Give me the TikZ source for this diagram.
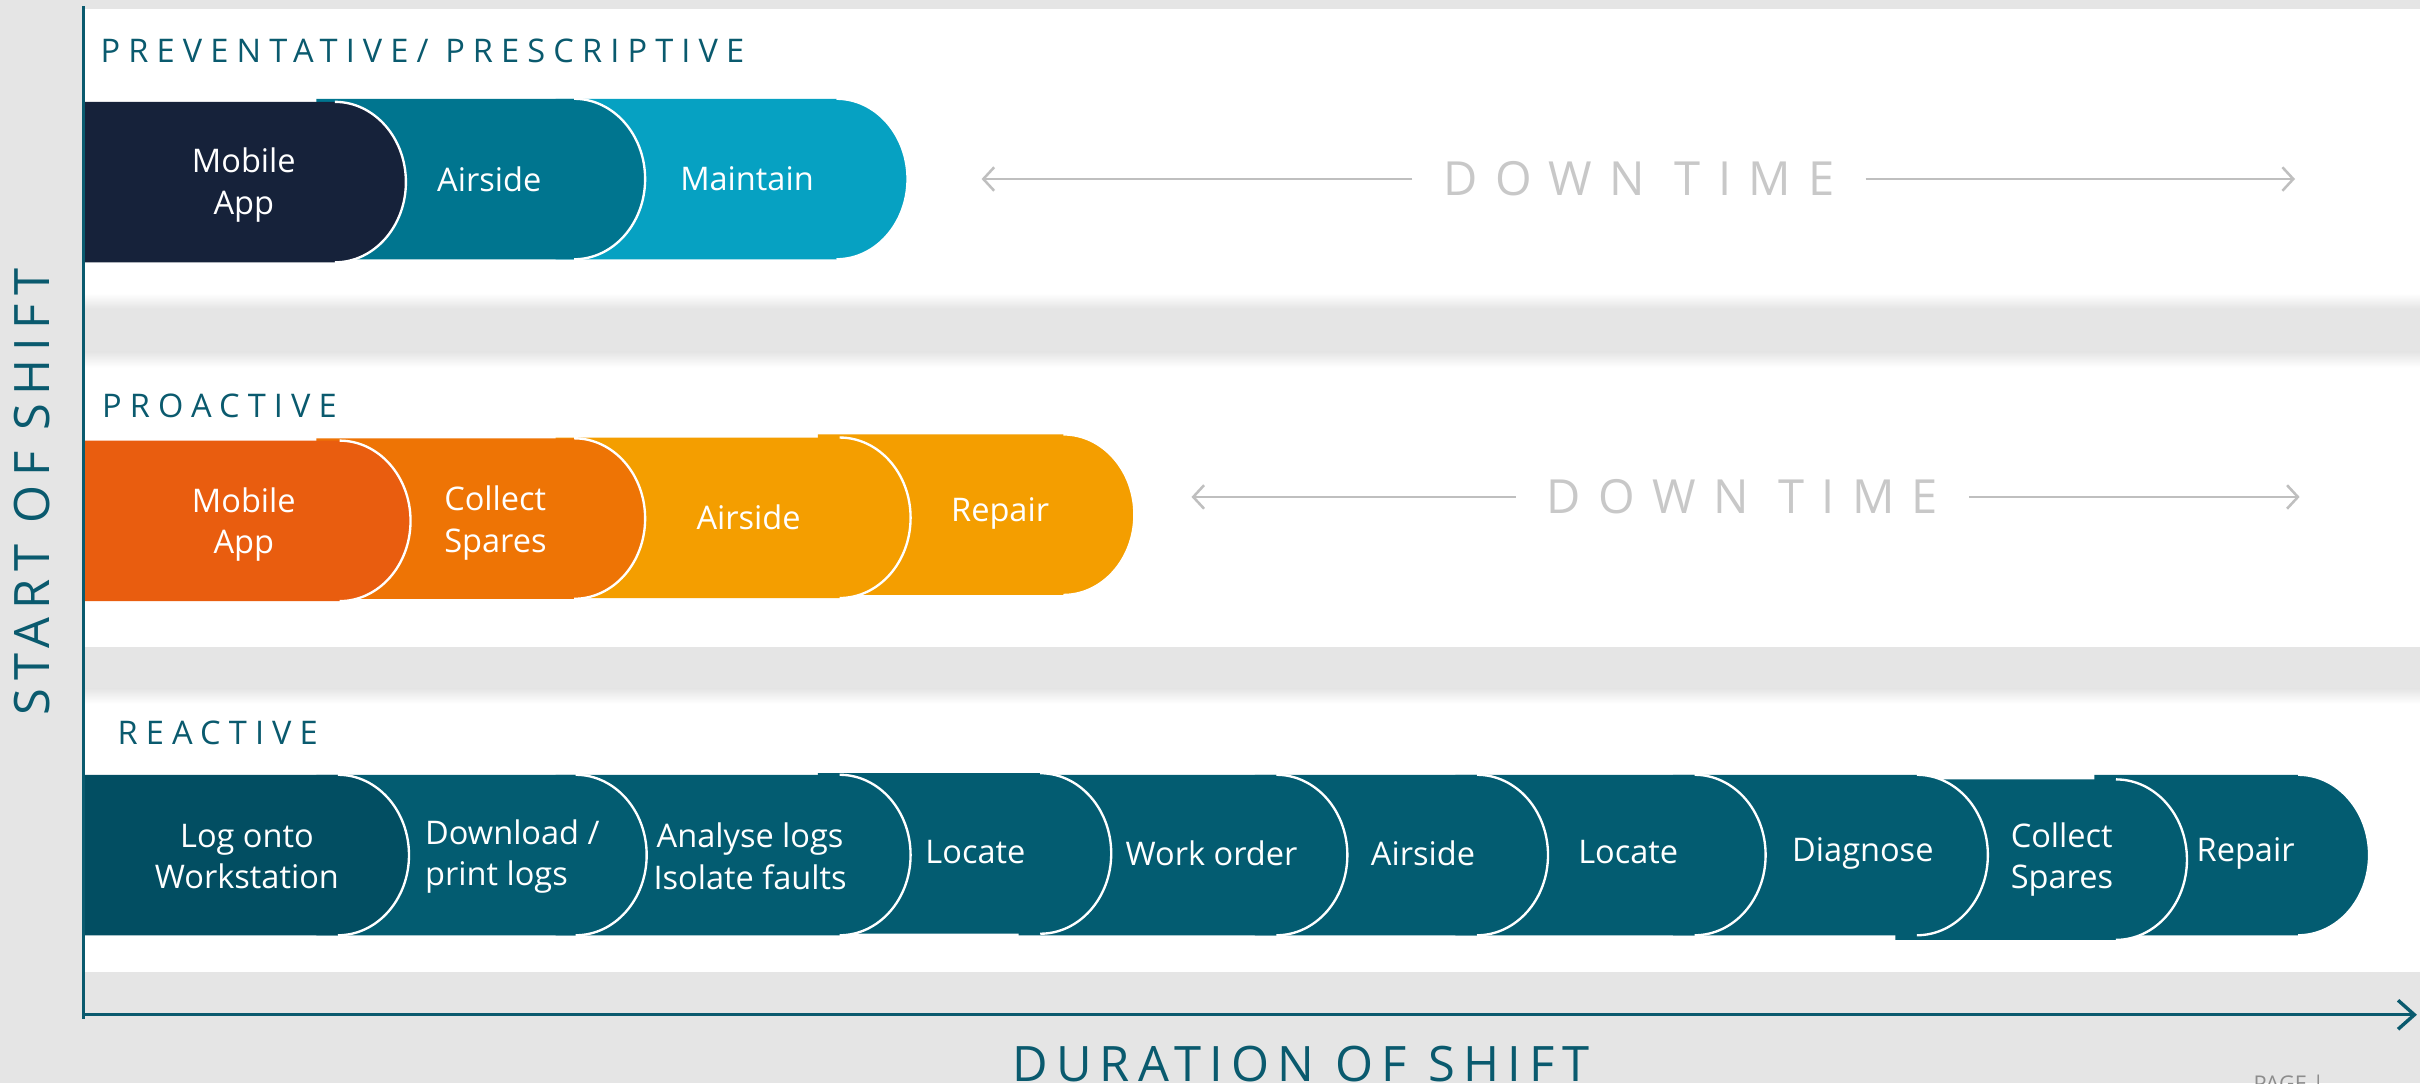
\documentclass[tikz,border=0pt]{standalone}
\usepackage{fontspec}
\setmainfont{Open Sans}
\usepackage{xcolor}
\usepackage{tikz}
\usetikzlibrary{arrows.meta}
\definecolor{bggrey}{HTML}{E5E5E5}
\definecolor{axisteal}{HTML}{0A5A6E}
\definecolor{darknavy}{HTML}{16223A}
\definecolor{midteal}{HTML}{00758F}
\definecolor{lightteal}{HTML}{06A1C2}
\definecolor{redorange}{HTML}{E95D0F}
\definecolor{orange}{HTML}{EE7405}
\definecolor{amber}{HTML}{F49E00}
\definecolor{deepteal}{HTML}{024E62}
\definecolor{petrol}{HTML}{035C71}
\definecolor{dtgrey}{HTML}{C8C8C8}
\definecolor{dtline}{HTML}{BFBFBF}
\definecolor{pagegrey}{HTML}{8C8C8C}

\tikzset{
  steplbl/.style={text=white, align=center, inner sep=0pt, font=\fontsize{18}{23}\selectfont},
  rowtitle/.style={text=axisteal, anchor=west, inner sep=0pt, font=\fontsize{18}{21}\selectfont\addfontfeature{LetterSpace=25}},
  downtime/.style={text=dtgrey, inner ysep=0pt, inner xsep=17pt, font=\fontsize{26}{30}\selectfont\addfontfeature{LetterSpace=37}},
  dtarrow/.style={draw=dtline, line width=1.4pt, -{Straight Barb[length=6pt, width=13pt]}},
  axislbl/.style={text=axisteal, inner sep=0pt, font=\fontsize{27}{31}\selectfont\addfontfeature{LetterSpace=17}},
  axisline/.style={draw=axisteal, line width=1.9pt},
}

\begin{document}
\begin{tikzpicture}[x=0.03cm, y=0.03cm]
\useasboundingbox (0,0) rectangle (1568,702);

% Background and the three white bands
\fill[bggrey] (0,0) rectangle (1568,702);
\fill[white] (54,502) rectangle (1568,696);
\fill[white] (54,283) rectangle (1568,474);
\fill[white] (54,72) rectangle (1568,256);
\shade[top color=white, bottom color=bggrey] (54,502) rectangle (1568,512);
\shade[top color=bggrey, bottom color=white] (54,464) rectangle (1568,474);
\shade[top color=bggrey, bottom color=white] (54,246) rectangle (1568,256);

% Row titles
\node[rowtitle] (t1) at (65,669) {PREVENTATIVE/ PRESCRIPTIVE};
\node[rowtitle] (t2) at (66,439) {PROACTIVE};
\node[rowtitle] (t3) at (76,227) {REACTIVE};

% Step segments (drawn right to left so each curve overlaps the next)
\foreach \xl/\xr/\yc/\col in {360/588/586/lightteal, 205/418/586/midteal, 54/263/584/darknavy,
  530/735/368.5/amber, 360/590/366.5/amber, 205/418/366/orange, 54/266/364.5/redorange,
  1357/1535/148/petrol, 1228/1417/145/petrol, 1084/1288/148/petrol, 943/1144/148/petrol,
  813/1003/148/petrol, 660/873/148/petrol, 530/720/149/petrol, 360/590/148/petrol,
  205/419/148/petrol, 54/265/148/deepteal} {
  \fill[\col] (\xl,\yc+52) -- (\xr-46,\yc+52) arc[start angle=90, end angle=-90, x radius=46, y radius=52] -- (\xl,\yc-52) -- cycle;
  \draw[white, line width=1.3pt] (\xr-46,\yc+52) arc[start angle=90, end angle=-90, x radius=46, y radius=52];
}

% Step labels
\node[steplbl] (p1) at (158,582) {Mobile\\App};
\node[steplbl] (p2) at (317,586) {Airside};
\node[steplbl] (p3) at (484,586) {Maintain};

\node[steplbl] (a1) at (158,362) {Mobile\\App};
\node[steplbl, align=left] (a2) at (321,363) {Collect\\Spares};
\node[steplbl] (a3) at (485,367) {Airside};
\node[steplbl] (a4) at (648,369) {Repair};

\node[steplbl] (r1) at (160,147) {Log onto\\Workstation};
\node[steplbl, align=left] (r2) at (332,147) {Download /\\print logs};
\node[steplbl] (r3) at (486,147) {Analyse logs\\Isolate faults};
\node[steplbl] (r4) at (632,150) {Locate};
\node[steplbl] (r5) at (785,149) {Work order};
\node[steplbl] (r6) at (922,149) {Airside};
\node[steplbl] (r7) at (1055,150) {Locate};
\node[steplbl] (r8) at (1207,149) {Diagnose};
\node[steplbl, align=left] (r9) at (1336,145) {Collect\\Spares};
\node[steplbl] (r10) at (1455,149) {Repair};

% Down time spans
\node[downtime] (dt1) at (1062,586) {DOWN TIME};
\coordinate (dt1l) at (636,586);
\coordinate (dt1r) at (1487,586);
\draw[dtarrow] (dt1.west) -- (dt1l);
\draw[dtarrow] (dt1.east) -- (dt1r);

\node[downtime] (dt2) at (1129,380) {DOWN TIME};
\coordinate (dt2l) at (772,380);
\coordinate (dt2r) at (1490,380);
\draw[dtarrow] (dt2.west) -- (dt2l);
\draw[dtarrow] (dt2.east) -- (dt2r);

% Axes
\coordinate (ytop) at (54,698);
\coordinate (ybot) at (54,42);
\coordinate (orig) at (54,44.5);
\coordinate (xend) at (1566,44.5);
\draw[axisline] (ybot) -- (ytop);
\draw[axisline, -{Straight Barb[length=9pt, width=16pt]}] (orig) -- (xend);

\node[axislbl, rotate=90] (ylab) at (21,383) {START OF SHIFT};
\node[axislbl, anchor=base] (xlab) at (843,1.5) {DURATION OF SHIFT};
\node[anchor=north west, inner sep=0pt, text=pagegrey, font=\fontsize{12}{14}\selectfont] (pg) at (1460,6) {PAGE |};

\end{tikzpicture}
\end{document}
